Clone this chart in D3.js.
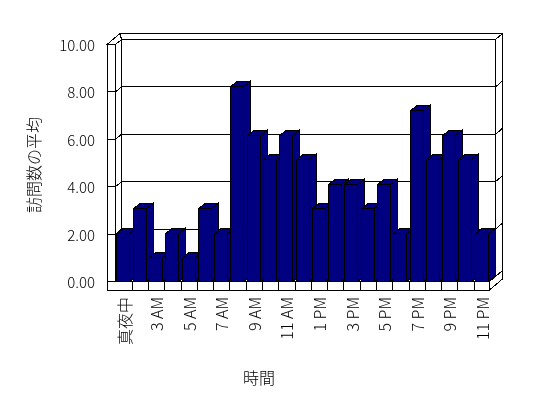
<!DOCTYPE html>
<html>
<head>
<meta charset="utf-8">
<script src="https://cdn.jsdelivr.net/npm/d3@7"></script>
<style>
  body { margin: 0; background: #fff; }
  svg { display: block; }
  text { font-family: "Noto Sans CJK JP", "Noto Sans", sans-serif; font-weight: 300; }
</style>
</head>
<body>
<div id="chart"></div>
<script>
// hours (one hour has no data, so 23 bands)
const categories = ["真夜中", "2 AM", "3 AM", "4 AM", "5 AM", "6 AM", "7 AM", "8 AM", "9 AM", "10 AM", "11 AM", "正午",
  "1 PM", "2 PM", "3 PM", "4 PM", "5 PM", "6 PM", "7 PM", "8 PM", "9 PM", "10 PM", "11 PM"];
const visits = [2, 3, 1, 2, 1, 3, 2, 8, 6, 5, 6, 5, 3, 4, 4, 3, 4, 2, 7, 5, 6, 5, 2];
const shownLabels = ["真夜中", "3 AM", "5 AM", "7 AM", "9 AM", "11 AM", "1 PM", "3 PM", "5 PM", "7 PM", "9 PM", "11 PM"];
const yTicks = [0, 2, 4, 6, 8, 10];

const width = 548, height = 398;

const svg = d3.select("#chart")
  .append("svg")
  .attr("width", width)
  .attr("height", height);

// grey text, no coloured fringes
svg.append("defs").append("filter")
  .attr("id", "grey")
  .append("feColorMatrix")
  .attr("type", "saturate")
  .attr("values", 0);

// front plane of the plot
const left = 115.5, right = 489.5, floorY = 281.5;
// depth offsets: to back wall face, and to back of the wall slab
const d1 = [6, -5], d2 = [13, -11];
const wallT = 8.5; // thickness of side wall / floor in front view

const x = d3.scaleBand().domain(categories).range([left, right + 0.5]).paddingInner(0).paddingOuter(0);
const y = d3.scaleLinear().domain([0, 10]).range([floorY, 44.5]);      // axis / gridlines (front edge)
const yBar = d3.scaleLinear().domain([0, 10]).range([floorY, 36.5]);   // bar faces sit a bit forward

const line = d3.line();
const g = svg.append("g")
  .attr("fill", "#fff")
  .attr("stroke", "#000")
  .attr("stroke-width", 1)
  .attr("shape-rendering", "crispEdges");

const plotTop = y(10);

// back wall top face
g.append("path").attr("d", line([
  [left + d1[0], plotTop + d1[1]], [right + d1[0], plotTop + d1[1]],
  [right + d2[0], plotTop + d2[1]], [left - wallT + d2[0], plotTop + d2[1]]]) + "Z");

// back wall right edge / slab
g.append("path").attr("d", line([
  [right + d1[0], plotTop + d1[1]], [right + d2[0], plotTop + d2[1]],
  [right + d2[0], floorY + wallT + d2[1]], [right, floorY + wallT],
  [right, floorY], [right + d1[0], floorY + d1[1]]]) + "Z");

// back wall face
g.append("rect")
  .attr("x", left + d1[0]).attr("y", plotTop + d1[1])
  .attr("width", right - left).attr("height", floorY - plotTop);

// left side wall: front face and top
g.append("rect")
  .attr("x", left - wallT).attr("y", plotTop)
  .attr("width", wallT).attr("height", floorY + wallT - plotTop);
g.append("path").attr("d", line([
  [left - wallT, plotTop], [left, plotTop], [left + d1[0], plotTop + d1[1]], [left - wallT + d2[0], plotTop + d2[1]]]) + "Z");
g.append("path").attr("d", line([[left, plotTop], [left, floorY]]));

// gridlines on walls
yTicks.forEach(v => {
  const yf = y(v), yb = yf + d1[1];
  g.append("path").attr("fill", "none").attr("d", line([
    [left - wallT, yf], [left, yf], [left + d1[0], yb], [right + d1[0], yb]]));
  g.append("path").attr("fill", "none").attr("d", line([
    [right + d1[0], yb], [right + d2[0], yf + d2[1]]]));
});

// floor: top, front face, ticks
g.append("path").attr("d", line([
  [left, floorY], [right, floorY], [right + d1[0], floorY + d1[1]], [left + d1[0], floorY + d1[1]]]) + "Z");
g.append("rect")
  .attr("x", left - wallT).attr("y", floorY)
  .attr("width", right - left + wallT).attr("height", wallT);
g.selectAll(".tick")
  .data(categories.slice(1))
  .enter().append("path")
  .attr("d", d => line([[Math.round(x(d)) + 0.5, floorY], [Math.round(x(d)) + 0.5, floorY + wallT]]));

// bars
const bw = x.bandwidth() - 2.8, bd = [6.5, -5];
const bars = g.append("g").attr("fill", "#000080");
categories.forEach((c, i) => {
  const x0 = Math.round(x(c) + 1) + 0.5, x1 = x0 + Math.round(bw), yt = Math.round(yBar(visits[i])) + 0.5;
  bars.append("path").attr("d", line([[x1, floorY], [x1, yt], [x1 + bd[0], yt + bd[1]], [x1 + bd[0], floorY + bd[1]]]) + "Z");
  bars.append("path").attr("d", line([[x0, yt], [x1, yt], [x1 + bd[0], yt + bd[1]], [x0 + bd[0], yt + bd[1]]]) + "Z");
  bars.append("rect").attr("x", x0).attr("y", yt).attr("width", x1 - x0).attr("height", floorY - yt);
});

const labels = svg.append("g")
  .attr("fill", "#000")
  .attr("filter", "url(#grey)");

// y tick labels
labels.append("g")
  .selectAll("text")
  .data(yTicks)
  .enter().append("text")
  .attr("x", 95)
  .attr("y", d => y(d))
  .attr("text-anchor", "end")
  .attr("dominant-baseline", "central")
  .attr("font-size", 15)
  .text(d => d.toFixed(2));

// x tick labels (every second hour)
labels.append("g")
  .selectAll("text")
  .data(shownLabels)
  .enter().append("text")
  .attr("transform", d => `translate(${x(d) + x.bandwidth() / 2}, 297) rotate(-90)`)
  .attr("text-anchor", "end")
  .attr("dominant-baseline", "central")
  .attr("font-size", 16)
  .text(d => d);

// axis titles
labels.append("text")
  .attr("transform", "translate(33, 165) rotate(-90)")
  .attr("text-anchor", "middle")
  .attr("dominant-baseline", "central")
  .attr("font-size", 16)
  .text("訪問数の平均");

labels.append("text")
  .attr("x", 259)
  .attr("y", 377)
  .attr("text-anchor", "middle")
  .attr("dominant-baseline", "central")
  .attr("font-size", 16)
  .text("時間");
</script>
</body>
</html>
